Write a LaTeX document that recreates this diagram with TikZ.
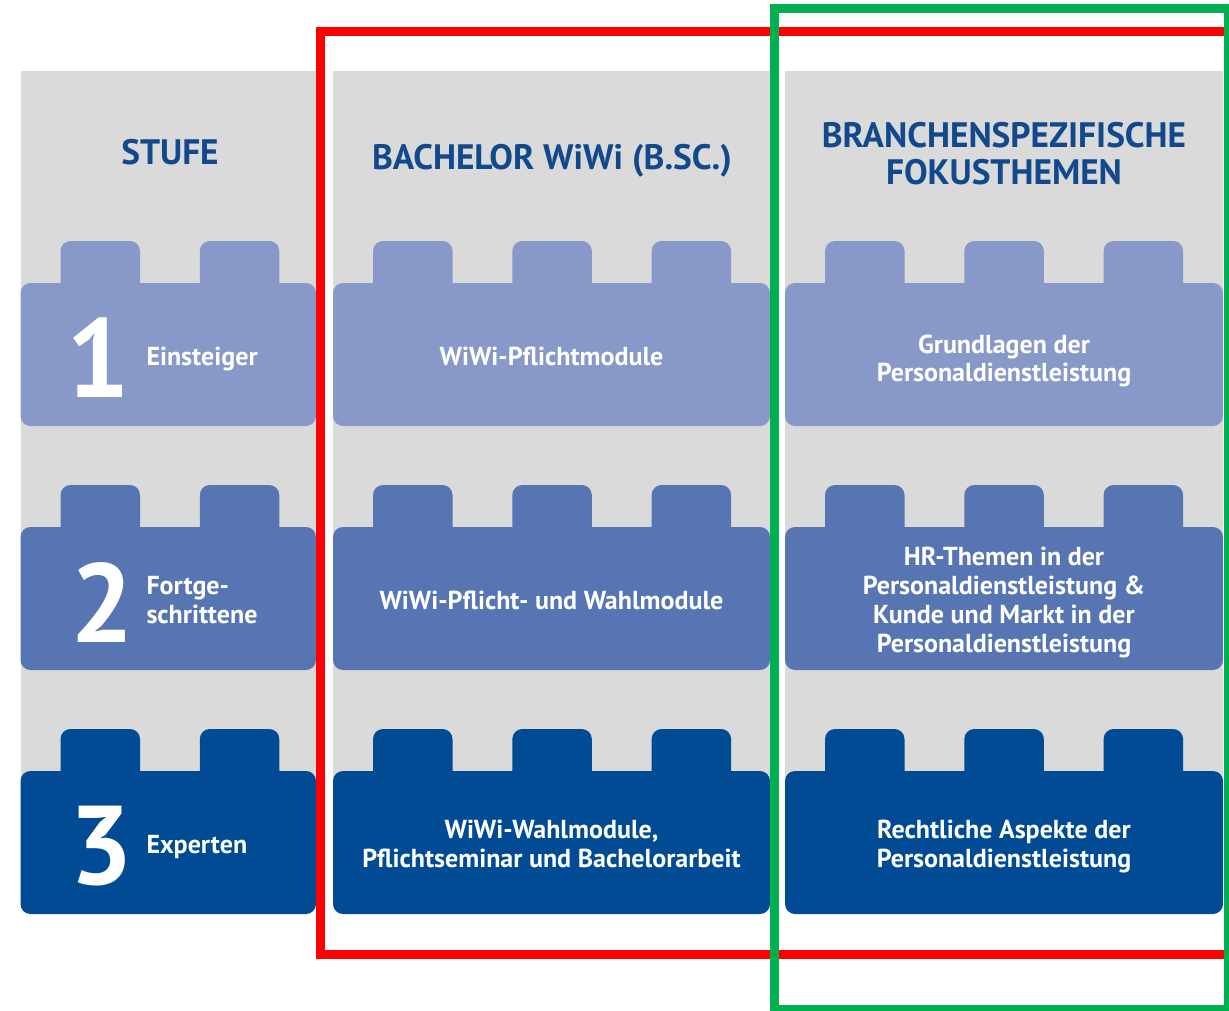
\documentclass[tikz,border=0pt]{standalone}
\usepackage{fontspec}
\setmainfont{PT Sans}

\definecolor{panelgray}{RGB}{218,218,218}
\definecolor{levelone}{RGB}{136,152,200}
\definecolor{leveltwo}{RGB}{86,117,178}
\definecolor{levelthree}{RGB}{0,75,148}
\definecolor{headblue}{RGB}{17,73,140}
\definecolor{markred}{RGB}{255,0,0}
\definecolor{markgreen}{RGB}{0,176,80}

\tikzset{every picture/.style={line width=0.75pt}}
\tikzset{
  bodytext/.style={text=white, inner sep=0pt, font=\bfseries\fontsize{19.5}{21.6}\selectfont},
  headtext/.style={text=headblue, inner sep=0pt, font=\bfseries\fontsize{26.5}{27.75}\selectfont},
  bigdigit/.style={text=white, inner sep=0pt, font=\bfseries\fontsize{84}{84}\selectfont},
  markframe/.style={line width=6.75pt}
}

% lego brick: left x, width, number of studs, top of body, colour
\newcommand{\legobrick}[5]{%
  \fill[#5, rounded corners=7.5pt] (#1,#4) rectangle ++(#2,143);
  \foreach \k in {1,...,#3}{%
    \fill[#5, rounded corners=7.5pt] ({#1+40+139.3*(\k-1)},{#4-42}) rectangle ++(79.5,60);
  }%
}

\begin{document}
\begin{tikzpicture}[x=0.75pt,y=0.75pt,yscale=-1,xscale=1]
\useasboundingbox (0,0) rectangle (1229,1011);

%Shape: Rectangle [gray columns]
\fill[panelgray] (20.5,71) rectangle (316,895);
\fill[panelgray] (333,71) rectangle (770,895);
\fill[panelgray] (785,71) rectangle (1223,895);

%Shape: Bricks row 1
\legobrick{20.5}{295.5}{2}{283}{levelone}
\legobrick{333}{437}{3}{283}{levelone}
\legobrick{785}{438}{3}{283}{levelone}
%Shape: Bricks row 2
\legobrick{20.5}{295.5}{2}{527}{leveltwo}
\legobrick{333}{437}{3}{527}{leveltwo}
\legobrick{785}{438}{3}{527}{leveltwo}
%Shape: Bricks row 3
\legobrick{20.5}{295.5}{2}{771}{levelthree}
\legobrick{333}{437}{3}{771}{levelthree}
\legobrick{785}{438}{3}{771}{levelthree}

% Text Node
\node[headtext, anchor=base] (stufehead) at (170,164) {STUFE};
% Text Node
\node[headtext, anchor=base] (bschead) at (552,169) {BACHELOR WiWi (B.SC.)};
% Text Node
\node[headtext, align=center] (fokushead) at (1004,153.6) {BRANCHENSPEZIFISCHE\\FOKUSTHEMEN};

% Text Node
\node[bigdigit] (digitone) at (98.5,358) {1};
% Text Node
\node[bodytext, anchor=base west] (levelonelab) at (146,365) {Einsteiger};
% Text Node
\node[bodytext, anchor=base] (bscone) at (551.5,365) {WiWi-Pflichtmodule};
% Text Node
\node[bodytext, align=center] (fokusone) at (1004,360.9) {Grundlagen der\\Personaldienstleistung};

% Text Node
\node[bigdigit] (digittwo) at (102,603) {2};
% Text Node
\node[bodytext, align=left, anchor=west] (leveltwolab) at (146,599.7) {Fortge-\\schrittene};
% Text Node
\node[bodytext, anchor=base] (bsctwo) at (551.5,609) {WiWi-Pflicht- und Wahlmodule};
% Text Node
\node[bodytext, align=center] (fokustwo) at (1004,602.4) {HR-Themen in der\\Personaldienstleistung \&\\Kunde und Markt in der\\Personaldienstleistung};

% Text Node
\node[bigdigit] (digitthree) at (101,846) {3};
% Text Node
\node[bodytext, anchor=base west] (levelthreelab) at (146,853) {Experten};
% Text Node
\node[bodytext, align=center] (bscthree) at (551.5,843.7) {WiWi-Wahlmodule,\\Pflichtseminar und Bachelorarbeit};
% Text Node
\node[bodytext, align=center] (fokusthree) at (1004,846.4) {Rechtliche Aspekte der\\Personaldienstleistung};

%Shape: Rectangle [red frame]
\draw[markframe, markred] (320.5,31) rectangle (1228,954.7);
%Shape: Rectangle [green frame]
\draw[markframe, markgreen] (774.7,8.7) rectangle (1228,1009.5);

\end{tikzpicture}
\end{document}
